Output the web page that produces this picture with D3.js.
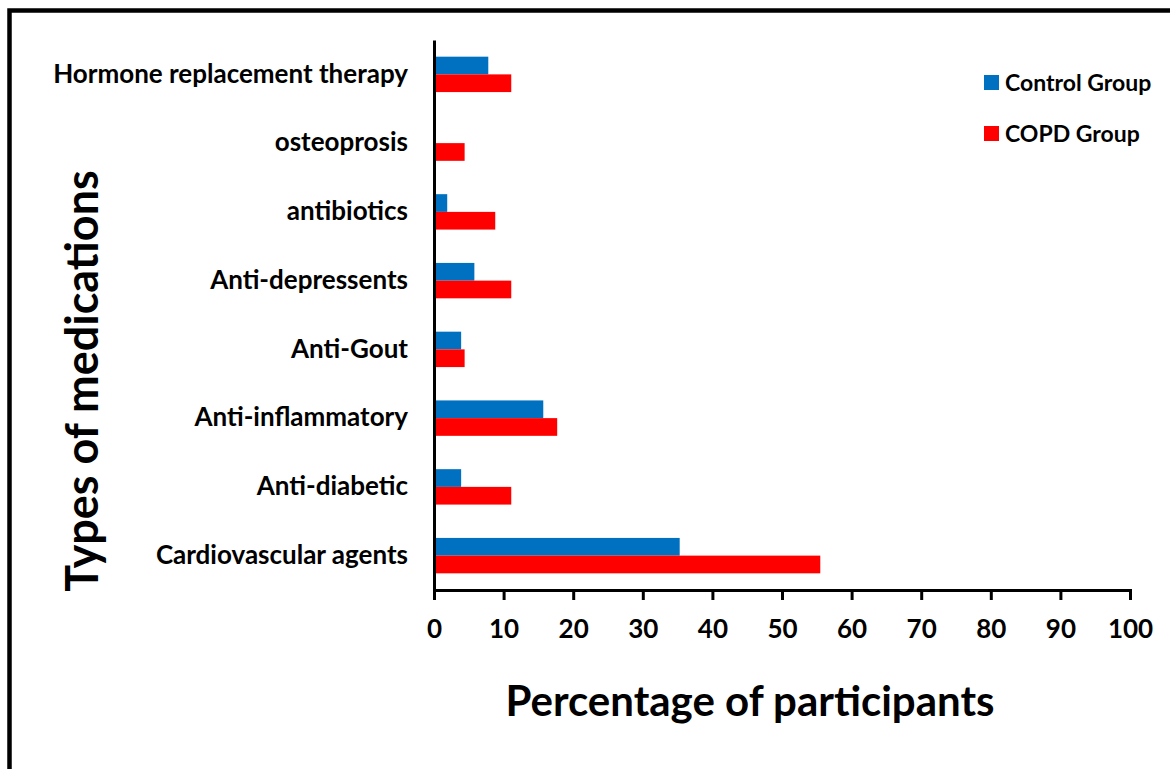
<!DOCTYPE html>
<html>
<head>
<meta charset="utf-8">
<script src="https://cdn.jsdelivr.net/npm/d3@7"></script>
<style>
  body { margin: 0; background: #fff; }
  svg text { font-family: Lato, "Open Sans", sans-serif; font-weight: bold; fill: #000; }
</style>
</head>
<body>
<div id="chart"></div>
<script>
var categories = ["Hormone replacement therapy", "osteoprosis", "antibiotics", "Anti-depressents",
  "Anti-Gout", "Anti-inflammatory", "Anti-diabetic", "Cardiovascular agents"];
var seriesNames = ["Control Group", "COPD Group"];
var controlValues = [7.8, 0, 1.9, 5.8, 3.9, 15.7, 3.9, 35.3];
var copdValues = [11.1, 4.4, 8.8, 11.1, 4.4, 17.7, 11.1, 55.5];
var xTicks = [0, 10, 20, 30, 40, 50, 60, 70, 80, 90, 100];

var width = 1170,
  height = 769,
  plotLeft = 434,
  plotRight = 1130,
  plotTop = 40,
  plotBottom = 590;

var colors = { "Control Group": "#0070C0", "COPD Group": "#FF0000" };

var svg = d3.select('#chart').
  append('svg').
  attr('width', width).
  attr('height', height);

// outer frame
svg.append('rect').
  attr('x', 9.5).
  attr('y', 10.5).
  attr('width', 1200).
  attr('height', 800).
  attr('fill', 'none').
  attr('stroke', '#000').
  attr('stroke-width', 4.5);

var xScale = d3.scaleLinear().domain([0, 100]).range([plotLeft, plotRight]);
var yScale = d3.scaleBand().domain(categories).range([plotTop, plotBottom]).paddingInner(0.485).paddingOuter(0.2425);
var inner = d3.scaleBand().domain(seriesNames).range([0, yScale.bandwidth()]);

var rows = categories.map((c, i) => ({ cat: c, vals: [controlValues[i], copdValues[i]] }));

var groups = svg.selectAll('g.row').
  data(rows).
  enter().
  append('g').
  attr('class', 'row').
  attr('transform', d => 'translate(0,' + yScale(d.cat) + ')');

groups.selectAll('rect').
  data(d => seriesNames.map((s, j) => ({ s: s, v: d.vals[j] }))).
  enter().
  append('rect').
  attr('x', xScale(0)).
  attr('y', d => inner(d.s)).
  attr('width', d => xScale(d.v) - xScale(0)).
  attr('height', inner.bandwidth()).
  attr('fill', d => colors[d.s]);

// x axis
var xAxis = d3.axisBottom(xScale).tickValues(xTicks).tickSize(10).tickSizeOuter(10).tickPadding(20);
var gx = svg.append('g').
  attr('transform', 'translate(0,' + plotBottom + ')').
  call(xAxis);
gx.select('.domain').attr('stroke', '#000').attr('stroke-width', 3);
gx.selectAll('.tick line').attr('stroke', '#000').attr('stroke-width', 3);
gx.selectAll('.tick text').style('font-size', '26px');

// y axis
var yAxis = d3.axisLeft(yScale).tickSize(0).tickPadding(26);
var gy = svg.append('g').
  attr('transform', 'translate(' + plotLeft + ',0)').
  call(yAxis);
gy.select('.domain').attr('stroke', '#000').attr('stroke-width', 3);
gy.selectAll('.tick text').style('font-size', '26px');

// axis titles
svg.append('text').
  attr('x', 750).
  attr('y', 716).
  attr('text-anchor', 'middle').
  style('font-size', '42px').
  text('Percentage of participants');

svg.append('text').
  attr('transform', 'translate(98,381) rotate(-90)').
  attr('text-anchor', 'middle').
  style('font-size', '45px').
  text('Types of medications');

// legend
var legend = svg.selectAll('g.legend').
  data(seriesNames).
  enter().
  append('g').
  attr('class', 'legend').
  attr('transform', (d, i) => 'translate(984,' + (75 + i * 51) + ')');

legend.append('rect').
  attr('width', 15).
  attr('height', 15).
  attr('fill', d => colors[d]);

legend.append('text').
  attr('x', 21).
  attr('y', 16).
  style('font-size', '23px').
  text(d => d);
</script>
</body>
</html>
